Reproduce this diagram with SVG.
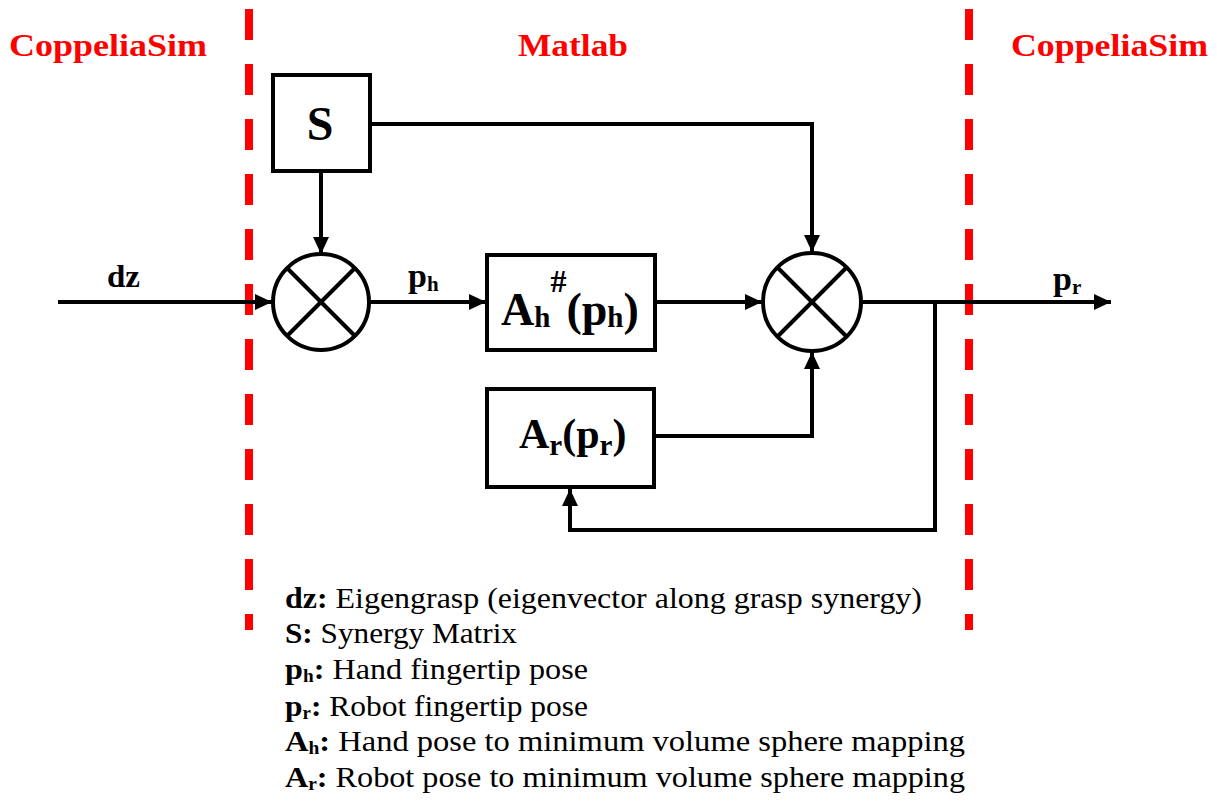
<svg xmlns="http://www.w3.org/2000/svg" width="1217" height="803" viewBox="0 0 1217 803">
<style>
.title{font-family:'Liberation Serif','DejaVu Serif',serif;font-weight:bold;font-size:32px;fill:#ff0000;}
.sep{stroke:#ff0000;stroke-width:8;stroke-dasharray:31 24;fill:none;}
.box{fill:#ffffff;stroke:#000;stroke-width:4;}
.wire{stroke:#000;stroke-width:4;fill:none;}
.lbl{font-family:'Liberation Serif','DejaVu Serif',serif;font-weight:bold;fill:#000;}
.leg{font-family:'Liberation Serif','DejaVu Serif',serif;font-size:30px;fill:#000;}
</style>
<defs>
<marker id="ah" markerUnits="userSpaceOnUse" markerWidth="18" markerHeight="16" refX="17" refY="8" orient="auto">
<path d="M0,0 L17,8 L0,16 z" fill="#000"/>
</marker>
</defs>
<rect width="1217" height="803" fill="#ffffff"/>

<g id="separators">
<line class="sep" x1="249" y1="9" x2="249" y2="630"/>
<line class="sep" x1="969" y1="9" x2="969" y2="630"/>
</g>

<g id="titles">
<text class="title" x="9" y="56" textLength="198" lengthAdjust="spacingAndGlyphs">CoppeliaSim</text>
<text class="title" x="518" y="56" textLength="110" lengthAdjust="spacingAndGlyphs">Matlab</text>
<text class="title" x="1011" y="56" textLength="197" lengthAdjust="spacingAndGlyphs">CoppeliaSim</text>
</g>

<g id="connectors">
<polyline class="wire" points="58,302 272,302" marker-end="url(#ah)"/>
<polyline class="wire" points="321,172 321,254" marker-end="url(#ah)"/>
<polyline class="wire" points="370,302 486,302" marker-end="url(#ah)"/>
<polyline class="wire" points="655,302 762,302" marker-end="url(#ah)"/>
<polyline class="wire" points="370,124 812,124 812,252" marker-end="url(#ah)"/>
<polyline class="wire" points="654,436 812,436 812,352" marker-end="url(#ah)"/>
<polyline class="wire" points="861,302 1111,302" marker-end="url(#ah)"/>
<polyline class="wire" points="935,302 935,530 570,530 570,489" marker-end="url(#ah)"/>
</g>

<g id="node-S">
<rect class="box" x="273" y="75" width="97" height="96"/>
<text class="lbl" x="320" y="140" font-size="48" text-anchor="middle">S</text>
</g>

<g id="node-mult1">
<circle cx="321" cy="302" r="48" fill="#fff" stroke="#000" stroke-width="4"/>
<line class="wire" x1="287" y1="268" x2="355" y2="336"/>
<line class="wire" x1="355" y1="268" x2="287" y2="336"/>
</g>

<g id="node-Ah">
<rect class="box" x="487" y="255" width="168" height="95"/>
<text class="lbl" x="501" y="325" font-size="46">A<tspan font-size="29" dy="2">h</tspan><tspan font-size="32" dy="-35">#</tspan><tspan dy="33">(p</tspan><tspan font-size="29" dy="2">h</tspan><tspan dy="-2">)</tspan></text>
</g>

<g id="node-mult2">
<circle cx="812" cy="302" r="49" fill="#fff" stroke="#000" stroke-width="4"/>
<line class="wire" x1="777" y1="267" x2="847" y2="337"/>
<line class="wire" x1="847" y1="267" x2="777" y2="337"/>
</g>

<g id="node-Ar">
<rect class="box" x="487" y="389" width="167" height="98"/>
<text class="lbl" x="519" y="448" font-size="42">A<tspan font-size="29" dy="7">r</tspan><tspan dy="-7">(p</tspan><tspan font-size="29" dy="7">r</tspan><tspan dy="-7">)</tspan></text>
</g>

<g id="labels">
<text class="lbl" x="107" y="287" font-size="31" textLength="33" lengthAdjust="spacingAndGlyphs">dz</text>
<text class="lbl" x="408" y="287" font-size="34">p<tspan font-size="21" dy="4">h</tspan></text>
<text class="lbl" x="1053" y="290" font-size="34">p<tspan font-size="21" dy="4">r</tspan></text>
</g>

<g id="legend">
<text class="leg" x="285" y="608" textLength="637" lengthAdjust="spacingAndGlyphs"><tspan font-weight="bold">dz:</tspan> Eigengrasp (eigenvector along grasp synergy)</text>
<text class="leg" x="285" y="643" textLength="232" lengthAdjust="spacingAndGlyphs"><tspan font-weight="bold">S:</tspan> Synergy Matrix</text>
<text class="leg" x="285" y="679" textLength="303" lengthAdjust="spacingAndGlyphs"><tspan font-weight="bold">p</tspan><tspan font-weight="bold" font-size="18" dy="3">h</tspan><tspan font-weight="bold" dy="-3">:</tspan> Hand fingertip pose</text>
<text class="leg" x="285" y="716" textLength="303" lengthAdjust="spacingAndGlyphs"><tspan font-weight="bold">p</tspan><tspan font-weight="bold" font-size="18" dy="3">r</tspan><tspan font-weight="bold" dy="-3">:</tspan> Robot fingertip pose</text>
<text class="leg" x="285" y="751" textLength="680" lengthAdjust="spacingAndGlyphs"><tspan font-weight="bold">A</tspan><tspan font-weight="bold" font-size="18" dy="3">h</tspan><tspan font-weight="bold" dy="-3">:</tspan> Hand pose to minimum volume sphere mapping</text>
<text class="leg" x="285" y="787" textLength="680" lengthAdjust="spacingAndGlyphs"><tspan font-weight="bold">A</tspan><tspan font-weight="bold" font-size="18" dy="3">r</tspan><tspan font-weight="bold" dy="-3">:</tspan> Robot pose to minimum volume sphere mapping</text>
</g>
</svg>
